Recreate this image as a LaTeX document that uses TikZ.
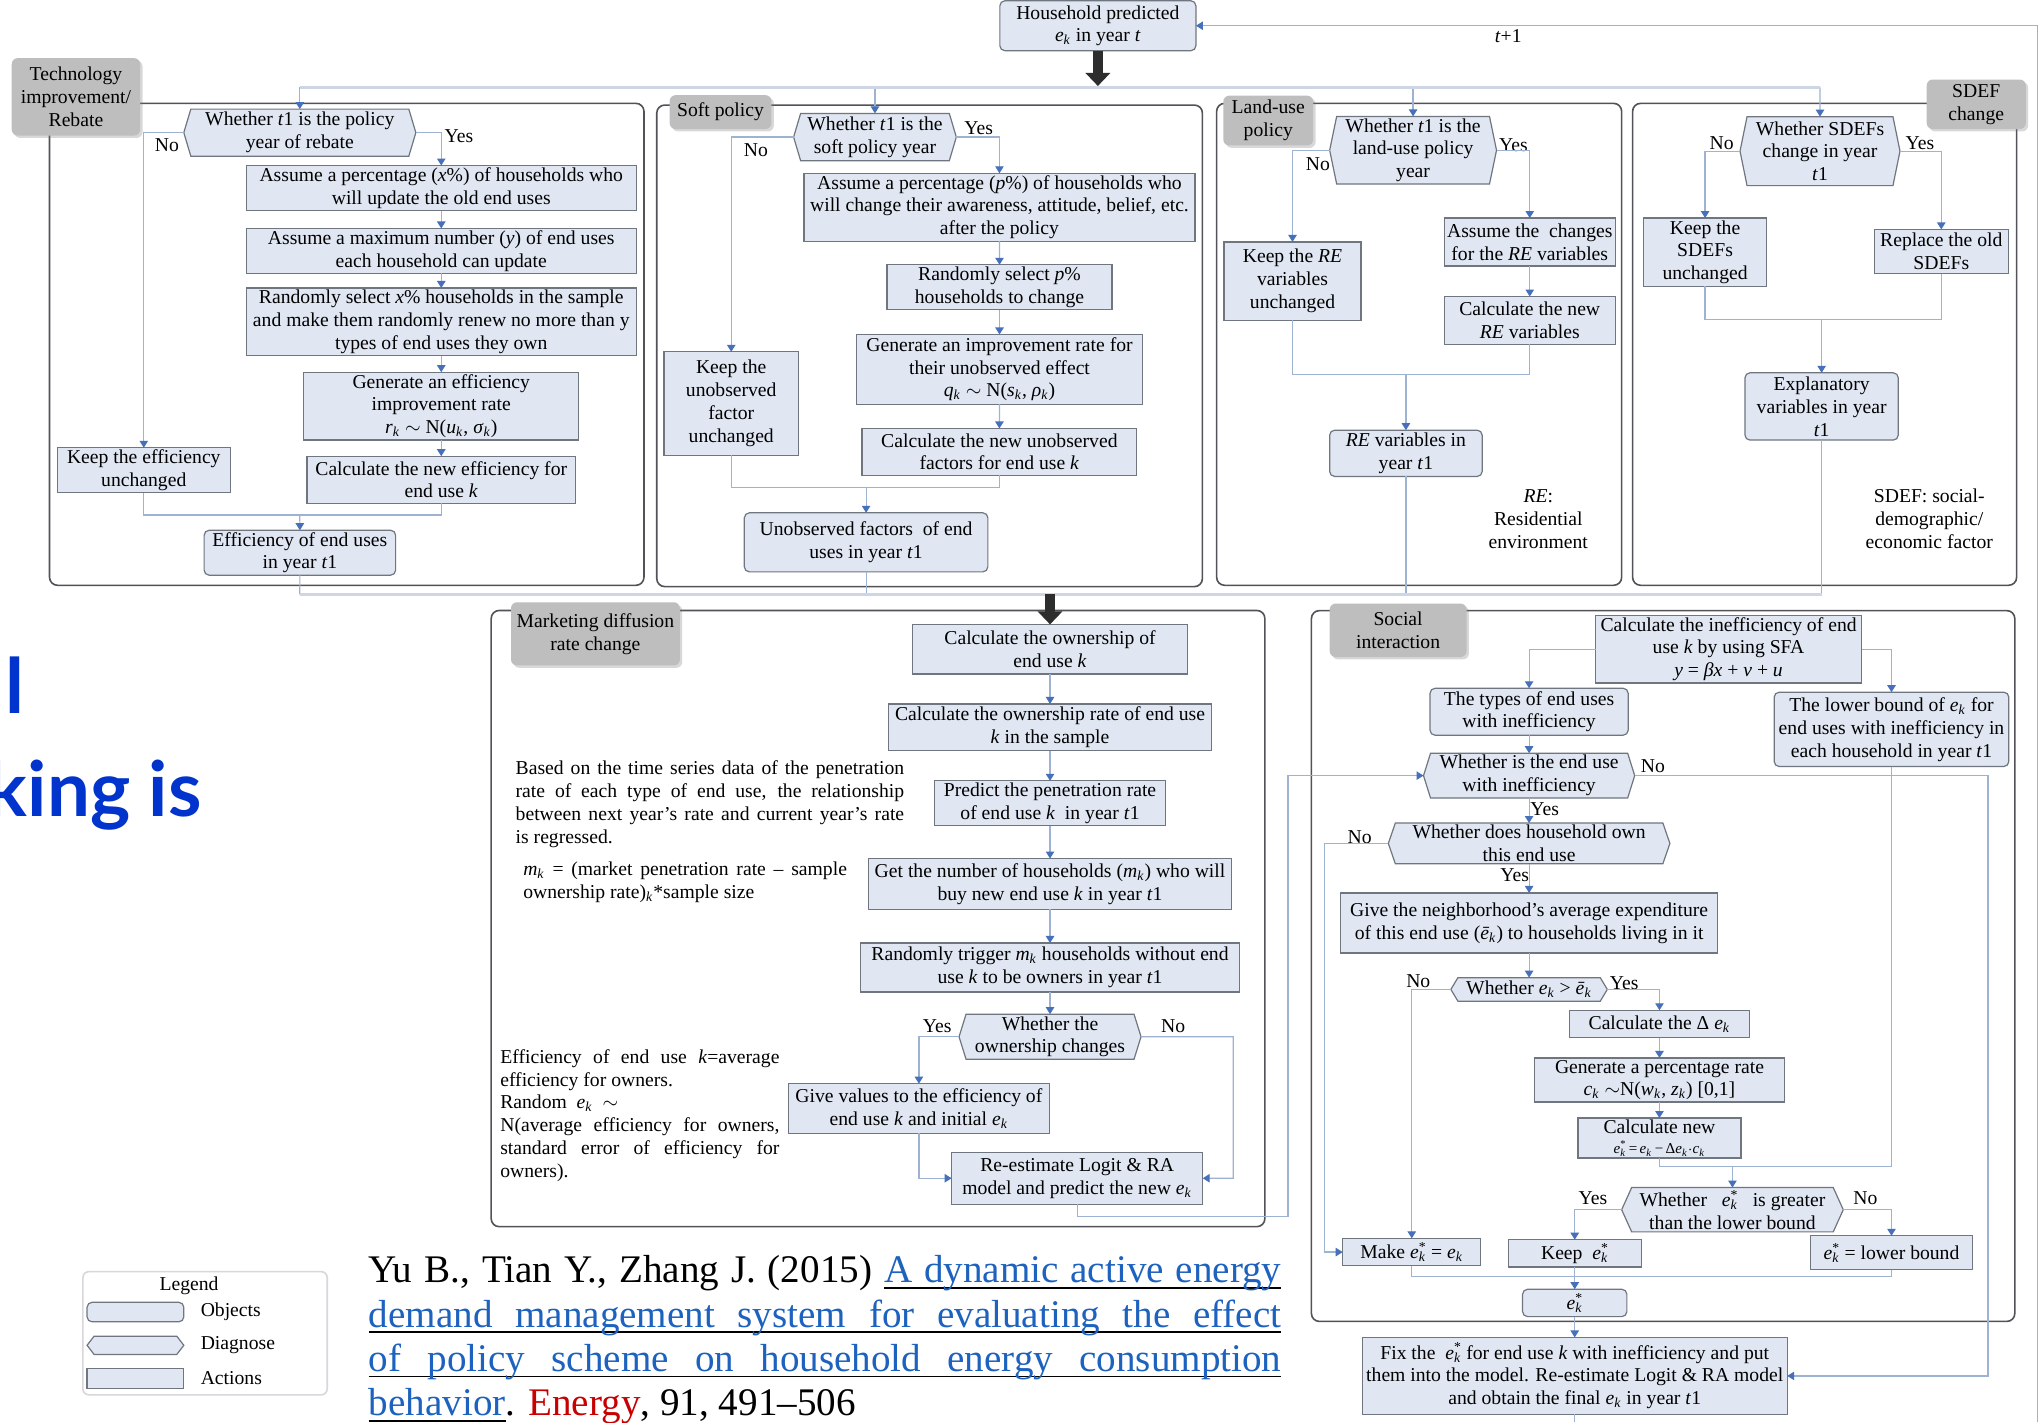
\documentclass[tikz,border=0pt]{standalone}
\usepackage{fontspec}
\setmainfont{Liberation Serif}
\newfontfamily\headfont{Lato}
\usetikzlibrary{arrows.meta,shadows}

\definecolor{boxfill}{RGB}{224,231,243}
\definecolor{boxline}{RGB}{112,118,128}
\definecolor{panelline}{RGB}{82,82,88}
\definecolor{connline}{RGB}{158,178,210}
\definecolor{tipblue}{RGB}{70,112,185}
\definecolor{paleline}{RGB}{206,214,228}
\definecolor{labgray}{RGB}{190,190,190}
\definecolor{arrowdark}{RGB}{45,45,45}
\definecolor{headblue}{RGB}{0,52,204}
\definecolor{linkblue}{RGB}{28,98,190}
\definecolor{citered}{RGB}{200,0,0}
\definecolor{legline}{RGB}{215,215,220}

\pgfdeclarelayer{bg}
\pgfdeclarelayer{shapes}
\pgfsetlayers{bg,shapes,main}

\newcommand\cellfont{\fontsize{9.8}{11.4}\selectfont}
\newcommand\subk[1]{\textsubscript{\textit{#1}}}
\newcommand\ek{\textit{e}\textsubscript{\textit{k}}}
\newcommand\eks{\textit{e}\rlap{\textsuperscript{*}}\textsubscript{\textit{k}}}
\newcommand\ebar{\textit{\=e}\textsubscript{\textit{k}}}
% underlined word and underlined stretchable space (black rule under coloured text)
\newcommand\uw[1]{\leavevmode\setbox0\hbox{#1}\rlap{\color{black}\rule[-3pt]{\wd0}{0.8pt}}\box0}
\newcommand\usp{\begingroup\color{black}\leaders\hrule height -2.2pt depth 3pt\hskip\fontdimen2\font plus\fontdimen3\font minus\fontdimen4\font\endgroup}

% box by its corners: style, name, x1, y1, x2, y2, text
\newcommand\putbox[7]{%
  \node[#1,minimum width={(#5-#3)*0.65pt},minimum height={(#6-#4)*0.65pt}]
    (#2) at ({(#3+#5)/2},{(#4+#6)/2}) {#7};}
% hexagonal outline round a decision node
\newcommand\hexframe[2][3.5pt]{%
  \begin{pgfonlayer}{shapes}
  \draw[hexstyle] ([xshift=#1]#2.north west) -- ([xshift=-#1]#2.north east) -- (#2.east)
    -- ([xshift=-#1]#2.south east) -- ([xshift=#1]#2.south west) -- (#2.west) -- cycle;
  \end{pgfonlayer}}
\newcommand\putdiag[6]{\putbox{dg}{#1}{#2}{#3}{#4}{#5}{#6}\hexframe{#1}}

\tikzset{
  base/.style={inner sep=1pt, outer sep=0pt, align=center, font=\cellfont, text=black},
  act/.style={base, draw=boxline, fill=boxfill, line width=0.6pt},
  obj/.style={act, rounded corners=2.5pt},
  dg/.style={base},
  hexstyle/.style={draw=boxline, fill=boxfill, line width=0.6pt},
  lab/.style={base, fill=labgray, rounded corners=3pt,
    drop shadow={shadow xshift=1.2pt, shadow yshift=-1.2pt, opacity=0.3}},
  panel/.style={draw=panelline, line width=0.8pt, rounded corners=4pt},
  ln/.style={draw=connline, line width=0.6pt},
  arr/.style={ln, -{Triangle[length=3.5pt,width=4.2pt,color=tipblue]}},
  pale/.style={draw=paleline, line width=1.3pt},
  blockarr/.style={draw=arrowdark, line width=4.8pt, -{Triangle[length=6.5pt,width=12pt,color=arrowdark]}},
  yn/.style={font=\cellfont, inner sep=0pt, outer sep=0pt, align=center},
  note/.style={font=\cellfont, inner sep=0pt, outer sep=0pt, align=justify},
  legframe/.style={draw=legline, line width=0.8pt, rounded corners=3pt, inner sep=0pt, outer sep=0pt},
  headtext/.style={font=\headfont\bfseries\fontsize{38}{42}\selectfont, text=headblue, inner sep=0pt, outer sep=0pt},
  cite/.style={font=\fontsize{19.5}{22.1}\selectfont, inner sep=0pt, outer sep=0pt, text width=455pt, align=justify},
}

\begin{document}
\begin{tikzpicture}[x=0.65pt,y=-0.65pt]
\begin{pgfonlayer}{bg}
\fill[white] (0,0) rectangle (1568,1091);
\end{pgfonlayer}
\useasboundingbox (0,0) rectangle (1568,1091);

% ---------- panel frames ----------
\draw[panel] (38,79.3) rectangle (494,449);
\draw[panel] (503.8,80.6) rectangle (922.4,450);
\draw[panel] (933.3,79.3) rectangle (1244,449);
\draw[panel] (1252.4,79.3) rectangle (1547,449);
\draw[panel] (376.8,468.3) rectangle (970.3,941);
\draw[panel] (1006,468.4) rectangle (1545.6,1013.7);

% ---------- panel titles ----------
\putbox{lab}{labTech}{9}{44.6}{107.5}{104}{Technology\\improvement/\\Rebate}
\putbox{lab}{labSoft}{513.7}{73}{591.8}{99}{Soft policy}
\putbox{lab}{labLand}{938.4}{73.4}{1007.4}{111.6}{Land-use\\policy}
\putbox{lab}{labSdef}{1478}{61}{1554}{99}{SDEF\\change}
\putbox{lab}{labMkt}{392}{462}{521.5}{510.5}{Marketing diffusion\\rate change}
\putbox{lab}{labSoc}{1020}{463}{1125}{504}{Social\\interaction}

% ---------- household input and loop ----------
\putbox{obj}{hh}{767}{0.6}{917.4}{38.9}{Household predicted\\\ek\ in year \textit{t}}
\coordinate (tM) at (842.2,66);
\draw[blockarr] (hh.south) -- (tM);
\coordinate (lpB) at (1563,1091);
\coordinate (lpT) at (1563,19.75);
\draw[arr] (lpB) -- (lpT) -- (hh.east);
\node[yn] (tplus) at (1157,28) {\textit{t}+1};

% ---------- technology improvement / rebate ----------
\putdiag{dA}{141}{83.7}{319}{119.8}{Whether \textit{t}1 is the policy\\year of rebate}
\putbox{act}{a1}{189}{127}{488}{161.5}{Assume a percentage (\textit{x}\%) of households who\\will update the old end uses}
\putbox{act}{a2}{189}{176}{488}{209}{Assume a maximum number (\textit{y}) of end uses\\each household can update}
\putbox{act}{a3}{189}{221.7}{488}{272}{Randomly select \textit{x}\% households in the sample\\and make them randomly renew no more than y\\types of end uses they own}
\putbox{act}{a4}{233}{287}{444}{336}{Generate an efficiency\\improvement rate\\\textit{r}\subk{k} $\sim$ N(\textit{u}\subk{k}, \textit{σ}\subk{k})}
\putbox{act}{a5}{235.5}{350}{441.5}{386}{Calculate the new efficiency for\\end use \textit{k}}
\putbox{act}{k1}{44}{343.5}{176.6}{378}{Keep the efficiency\\unchanged}
\putbox{obj}{r1}{156.6}{408}{303.5}{440}{Efficiency of end uses\\in year \textit{t}1}
\node[yn] (nA) at (128,111.6) {No};
\node[yn] (yA) at (352,104.8) {Yes};
\coordinate (tA) at (230,67);
\coordinate (jA) at (230,395);
\coordinate (bA) at (230,456);
\draw[arr] (tA) -- (dA.north);
\draw[arr] (dA.west) -| (k1.north);
\draw[arr] (dA.east) -| (a1.north);
\draw[arr] (a1.south) -- (a2.north);
\draw[arr] (a2.south) -- (a3.north);
\draw[arr] (a3.south) -- (a4.north);
\draw[arr] (a4.south) -- (a5.north);
\draw[ln] (k1.south) |- (jA);
\draw[ln] (a5.south) |- (jA);
\draw[arr] (jA) -- (r1.north);
\draw[ln] (r1.south) -- (bA);

% ---------- soft policy ----------
\putdiag{dB}{608.8}{87}{733.6}{123.3}{Whether \textit{t}1 is the\\soft policy year}
\putbox{act}{b1}{616.7}{135}{916.7}{182.9}{Assume a percentage (\textit{p}\%) of households who\\will change their awareness, attitude, belief, etc.\\after the policy}
\putbox{act}{b2}{680.5}{204}{853}{236.6}{Randomly select \textit{p}\%\\households to change}
\putbox{act}{b3}{657}{256.6}{876.5}{310}{Generate an improvement rate for\\their unobserved effect\\\textit{q}\subk{k} $\sim$ N(\textit{s}\subk{k}, \textit{ρ}\subk{k})}
\putbox{act}{b4}{661.3}{328.7}{872}{364.5}{Calculate the new unobserved\\factors for end use \textit{k}}
\putbox{act}{k2}{509.4}{269.9}{612.5}{349.2}{Keep the\\unobserved\\factor\\unchanged}
\putbox{obj}{r2}{571}{393.4}{757.8}{438.7}{Unobserved factors\ \ of end\\uses in year \textit{t}1}
\node[yn] (yB) at (750.7,98.5) {Yes};
\node[yn] (nB) at (579.8,115) {No};
\coordinate (tB) at (671.2,67);
\coordinate (jB) at (664.4,374);
\coordinate (bB) at (664.4,456);
\draw[arr] (tB) -- (dB.north);
\draw[arr] (dB.west) -| (k2.north);
\draw[arr] (dB.east) -| (b1.north);
\draw[arr] (b1.south) -- (b2.north);
\draw[arr] (b2.south) -- (b3.north);
\draw[arr] (b3.south) -- (b4.north);
\draw[ln] (k2.south) |- (jB);
\draw[ln] (b4.south) |- (jB);
\draw[arr] (jB) -- (r2.north);
\draw[ln] (r2.south) -- (bB);

% ---------- land-use policy ----------
\putdiag{dC}{1020}{89.5}{1148}{141}{Whether \textit{t}1 is the\\land-use policy\\year}
\putbox{act}{c1}{1108}{167.3}{1239}{204}{Assume the\ \ changes\\for the \textit{RE} variables}
\putbox{act}{c2}{1108}{227.5}{1239}{264.2}{Calculate the new\\\textit{RE} variables}
\putbox{act}{k3}{939}{185.6}{1044}{245.7}{Keep the \textit{RE}\\variables\\unchanged}
\putbox{obj}{r3}{1020}{330}{1137}{365.5}{\textit{RE} variables in\\year \textit{t}1}
\node[yn] (nC) at (1011,125.7) {No};
\node[yn] (yC) at (1161,111) {Yes};
\node[yn] (reNote) at (1180,398) {\textit{RE}:\\Residential\\environment};
\coordinate (tC) at (1084,67);
\coordinate (jC) at (1078.5,287);
\coordinate (bC) at (1078.5,456);
\draw[arr] (tC) -- (dC.north);
\draw[arr] (dC.west) -| (k3.north);
\draw[arr] (dC.east) -| (c1.north);
\draw[arr] (c1.south) -- (c2.north);
\draw[ln] (k3.south) |- (jC);
\draw[ln] (c2.south) |- (jC);
\draw[arr] (jC) -- (r3.north);
\draw[ln] (r3.south) -- (bC);

% ---------- SDEF change ----------
\putdiag{dD}{1334.8}{89.5}{1457.5}{142.4}{Whether SDEFs\\change in year\\\textit{t}1}
\putbox{act}{k4}{1261}{167.3}{1355}{219.6}{Keep the\\SDEFs\\unchanged}
\putbox{act}{rp}{1437.8}{176}{1540.6}{210}{Replace the old\\SDEFs}
\putbox{obj}{r4}{1338.6}{286}{1456.2}{337.6}{Explanatory\\variables in year\\\textit{t}1}
\node[yn] (nD) at (1320.7,110) {No};
\node[yn] (yD) at (1472.8,110) {Yes};
\node[yn] (sdefNote) at (1480,398) {SDEF: social-\\demographic/\\economic factor};
\coordinate (tD) at (1396.2,67);
\coordinate (jD) at (1397.4,245);
\coordinate (bD) at (1397.4,456);
\draw[arr] (tD) -- (dD.north);
\draw[arr] (dD.west) -| (k4.north);
\draw[arr] (dD.east) -| (rp.north);
\draw[ln] (k4.south) |- (jD);
\draw[ln] (rp.south) |- (jD);
\draw[arr] (jD) -- (r4.north);
\draw[ln] (r4.south) -- (bD);

% distribution and collection lines
\draw[pale] (tA) -- (tD);
\draw[pale] (bA) -- (bD);

% ---------- marketing diffusion ----------
\putbox{act}{m1}{700}{479}{911}{517}{Calculate the ownership of\\end use \textit{k}}
\putbox{act}{m2}{681.5}{540}{929.5}{576}{Calculate the ownership rate of end use\\\textit{k} in the sample}
\putbox{act}{m3}{717}{599}{894}{633.5}{Predict the penetration rate\\of end use \textit{k}\ \ in year \textit{t}1}
\putbox{act}{m4}{666}{658.6}{945}{697.4}{Get the number of households (\textit{m}\subk{k}) who will\\buy new end use \textit{k} in year \textit{t}1}
\putbox{act}{m5}{660}{723.4}{951}{761}{Randomly trigger \textit{m}\subk{k} households without end\\use \textit{k} to be owners in year \textit{t}1}
\putdiag{m6}{735.7}{778}{875.3}{812.6}{Whether the\\ownership changes}
\putbox{act}{m7}{604.8}{831.3}{805}{869.5}{Give values to the efficiency of\\end use \textit{k} and initial \ek}
\putbox{act}{m8}{730}{884}{922.6}{923.7}{Re-estimate Logit \& RA\\model and predict the new \ek}
\node[yn] (yM) at (719,787.5) {Yes};
\node[yn] (nM) at (900,787.5) {No};
\coordinate (bM) at (805.5,456);
\coordinate (mNo) at (946,903.85);
\draw[blockarr] (bM) -- (m1.north);
\draw[arr] (m1.south) -- (m2.north);
\draw[arr] (m2.south) -- (m3.north);
\draw[arr] (m3.south) -- (m4.north);
\draw[arr] (m4.south) -- (m5.north);
\draw[arr] (m5.south) -- (m6.north);
\draw[arr] (m6.west) -| (m7.north);
\draw[arr] (m6.east) -| (mNo) -- (m8.east);
\draw[arr] (m7.south) |- (m8.west);

\node[note, text width=193.7pt, anchor=north west] (ntA) at (395.6,583.5)
  {Based on the time series data of the penetration\linebreak rate of each type of end use, the relationship\linebreak between next year's rate and current year's rate\linebreak is regressed.};
\node[note, text width=161.4pt, anchor=north west] (ntB) at (401.4,661)
  {\textit{m}\subk{k} = (market penetration rate -- sample\linebreak ownership rate)\subk{k}*sample size};
\node[note, text width=139.2pt, anchor=north west] (ntC) at (383.8,805)
  {Efficiency of end use \textit{k}=average\linebreak efficiency for owners.\\Random\ \ \ek\ \ $\sim$\\N(average efficiency for owners,\linebreak standard error of efficiency for\linebreak owners).};

% ---------- social interaction ----------
\putbox{act}{s1}{1224}{474}{1428}{522}{Calculate the inefficiency of end\\use \textit{k} by using SFA\\\textit{y} = \textit{βx} + \textit{v} + \textit{u}}
\putbox{obj}{s2}{1097}{528}{1249}{564}{The types of end uses\\with inefficiency}
\putbox{obj}{s3}{1361}{531}{1541}{588}{The lower bound of \ek\ for\\end uses with inefficiency in\\each household in year \textit{t}1}
\putdiag{d5}{1092}{580}{1254}{610}{Whether is the end use\\with inefficiency}
\putdiag{d6}{1065}{632}{1281}{662}{Whether does household own\\this end use}
\putbox{act}{s4}{1028.5}{685}{1317.5}{731}{Give the neighborhood's average expenditure\\of this end use (\ebar) to households living in it}
\putdiag{d7}{1113}{750}{1233}{768}{Whether \ek\ > \ebar}
\putbox{act}{s5}{1204}{775}{1342}{796}{Calculate the Δ \ek}
\putbox{act}{s6}{1177}{812}{1369}{845}{Generate a percentage rate\\\textit{c}\subk{k} $\sim$N(\textit{w}\subk{k}, \textit{z}\subk{k}) [0,1]}
\putbox{act}{s7}{1210.5}{858}{1335.5}{888}{Calculate new\\[-1.5pt]{\fontsize{7.5}{8.5}\selectfont\eks\,=\,\ek\,−\,Δ\ek$\cdot$\textit{c}\subk{k}}}
\putbox{dg}{d8}{1244}{911}{1414}{945}{Whether\ \ \ \eks\ \ \ is greater\\than the lower bound}
\hexframe[5pt]{d8}
\putbox{act}{mk}{1030}{950}{1136}{971}{Make \eks\ = \ek}
\putbox{act}{kp}{1157}{951}{1259}{972}{Keep\ \ \eks}
\putbox{act}{lb}{1389}{948}{1513}{974}{\eks\ = lower bound}
\putbox{obj}{es}{1168}{989}{1248}{1010}{\eks}
\putbox{act}{fx}{1045}{1026}{1371}{1085}{Fix the\ \ \eks\ for end use \textit{k} with inefficiency and put\\them into the model. Re-estimate Logit \& RA model\\and obtain the final \ek\ in year \textit{t}1}

\node[yn] (n5) at (1268,588) {No};
\node[yn] (y5) at (1185,621) {Yes};
\node[yn] (n6) at (1043,642) {No};
\node[yn] (y6) at (1162,671) {Yes};
\node[yn] (n7) at (1088,753) {No};
\node[yn] (y7) at (1246,754) {Yes};
\node[yn] (y8) at (1222,919) {Yes};
\node[yn] (n8) at (1431,919) {No};

\coordinate (cA) at (988,933);
\coordinate (cR) at (1525,1055.5);
\coordinate (cL) at (1016,960.5);
\coordinate (jS) at (1329,895);
\coordinate (jE) at (1208,979);
\coordinate (fxB) at (1208,1091);
\draw[arr] (s1.west) -| (s2.north);
\draw[arr] (s1.east) -| (s3.north);
\draw[arr] (s2.south) -- (d5.north);
\draw[arr] (m8.south) |- (cA) |- (d5.west);
\draw[arr] (d5.east) -| (cR) -- (fx.east);
\draw[arr] (d5.south) -- (d6.north);
\draw[arr] (d6.west) -| (cL) -- (mk.west);
\draw[arr] (d6.south) -- (s4.north);
\draw[arr] (s4.south) -- (d7.north);
\draw[arr] (d7.west) -| (mk.north);
\draw[arr] (d7.east) -| (s5.north);
\draw[arr] (s5.south) -- (s6.north);
\draw[arr] (s6.south) -- (s7.north);
\draw[ln] (s7.south) |- (jS);
\draw[ln] (s3.south) |- (jS);
\draw[arr] (jS) -- (d8.north);
\draw[arr] (d8.west) -| (kp.north);
\draw[arr] (d8.east) -| (lb.north);
\draw[ln] (mk.south) |- (jE);
\draw[ln] (lb.south) |- (jE);
\draw[arr] (kp.south) -- (es.north);
\draw[arr] (es.south) -- (fx.north);
\draw[ln] (fx.south) -- (fxB);

% ---------- legend ----------
\putbox{legframe}{lg}{63.6}{975.5}{251}{1070}{}
\node[yn] (lgT) at (145,986) {Legend};
\putbox{obj}{lgO}{66.8}{999}{141}{1014}{}
\putdiag{lgD}{66.8}{1025}{141}{1039}{}
\putbox{act}{lgA}{66.8}{1050}{141}{1065}{}
\node[yn, anchor=west] (lgOt) at (154,1006.5) {Objects};
\node[yn, anchor=west] (lgDt) at (154,1032) {Diagnose};
\node[yn, anchor=west] (lgAt) at (154,1057.5) {Actions};

% ---------- reference ----------
\node[cite, anchor=base west] (cit) at (283,984)
  {\tolerance=10000 Yu B., Tian Y., Zhang J. (2015) \textcolor{linkblue}{\uw{A}\usp\uw{dynamic}\usp\uw{active}\usp\uw{energy}}\linebreak
   \textcolor{linkblue}{\uw{demand}\usp\uw{management}\usp\uw{system}\usp\uw{for}\usp\uw{evaluating}\usp\uw{the}\usp\uw{effect}}\linebreak
   \textcolor{linkblue}{\uw{of}\usp\uw{policy}\usp\uw{scheme}\usp\uw{on}\usp\uw{household}\usp\uw{energy}\usp\uw{consumption}}\linebreak
   \textcolor{linkblue}{\uw{behavior}}. \textcolor{citered}{Energy}, 91, 491--506};

% ---------- large heading fragments ----------
\node[headtext, anchor=base west] (hdA) at (4,547.7) {l};
\node[headtext, anchor=base west] (hdB) at (-10,626.5) {king is};

\end{tikzpicture}
\end{document}
